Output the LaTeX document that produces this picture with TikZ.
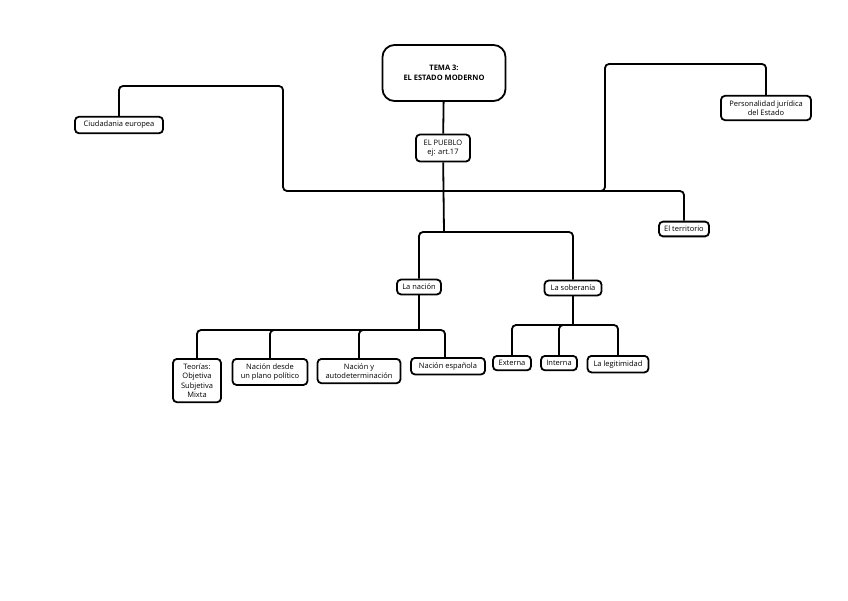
\documentclass[tikz,border=0pt]{standalone}
\usepackage{fontspec}
\setmainfont{Open Sans}
\usetikzlibrary{positioning, calc}

\begin{document}
\begin{tikzpicture}[x=1pt,y=-1pt,
        box/.style={draw,line width=1.8pt,rounded corners=4pt,fill=white,align=center,
          font=\fontsize{7.5}{9.5}\selectfont,inner xsep=3pt,inner ysep=4.5pt},
        titlebox/.style={box,rounded corners=12pt,minimum width=123pt,minimum height=56pt,
          font=\fontsize{7.5}{10}\selectfont\bfseries},
        conn/.style={line width=1.8pt,rounded corners=4pt}]
      \useasboundingbox (0,0) rectangle (848,600);
      \node[titlebox] (tema) at (444,73) {TEMA 3:\\EL ESTADO MODERNO};
      \node[box,minimum width=54pt,minimum height=27pt] (pueblo) at (443,148) {EL PUEBLO\\ej: art.17};
      \node[box,minimum width=88pt] (ciudadania) at (119,125) {Ciudadania europea};
      \node[box,minimum width=90pt] (persona) at (766,108) {Personalidad jurídica\\del Estado};
      \node[box,minimum width=50pt] (territorio) at (684,229) {El territorio};
      \node[box,minimum width=44pt] (nacion) at (419,287) {La nación};
      \node[box,minimum width=57pt] (soberania) at (573,288) {La soberanía};
      \node[box,minimum width=48pt,anchor=north] (teorias) at (197,358) {Teorías:\\Objetiva\\Subjetiva\\Mixta};
      \node[box,minimum width=75pt,anchor=north] (desde) at (270,358) {Nación desde\\un plano político};
      \node[box,minimum width=83pt,anchor=north] (autodet) at (359,358) {Nación y\\autodeterminación};
      \node[box,minimum width=74pt,anchor=north] (espanola) at (448,357) {Nación española};
      \node[box,minimum width=38pt,anchor=north] (externa) at (512,355) {Externa};
      \node[box,minimum width=36pt,anchor=north] (interna) at (559,355) {Interna};
      \node[box,minimum width=61pt,anchor=north] (legit) at (618,355) {La legitimidad};
      % junctions
      \coordinate (top) at (444,191);
      \coordinate (mid) at (444,232);
      \coordinate (left) at (283,86);
      \coordinate (right) at (605,64);
      \coordinate (nj) at (419,330);
      \coordinate (sj) at (573,325);
      \draw[conn] (tema) -- (pueblo);
      \draw[conn] (pueblo) -- (mid);
      \draw[conn] (top) -| (left) -| (ciudadania);
      \draw[conn] (top) -| (right) -| (persona);
      \draw[conn] (top) -| (territorio);
      \draw[conn] (mid) -| (nacion);
      \draw[conn] (mid) -| (soberania);
      \draw[conn] (nacion) -- (nj);
      \draw[conn] (nj) -| (teorias);
      \draw[conn] (nj) -| (desde);
      \draw[conn] (nj) -| (autodet);
      \draw[conn] (nj) -| (espanola.north -| 445,0);
      \draw[conn] (soberania) -- (sj);
      \draw[conn] (sj) -| (externa);
      \draw[conn] (sj) -| (interna);
      \draw[conn] (sj) -| (legit);
    \end{tikzpicture}
\end{document}
